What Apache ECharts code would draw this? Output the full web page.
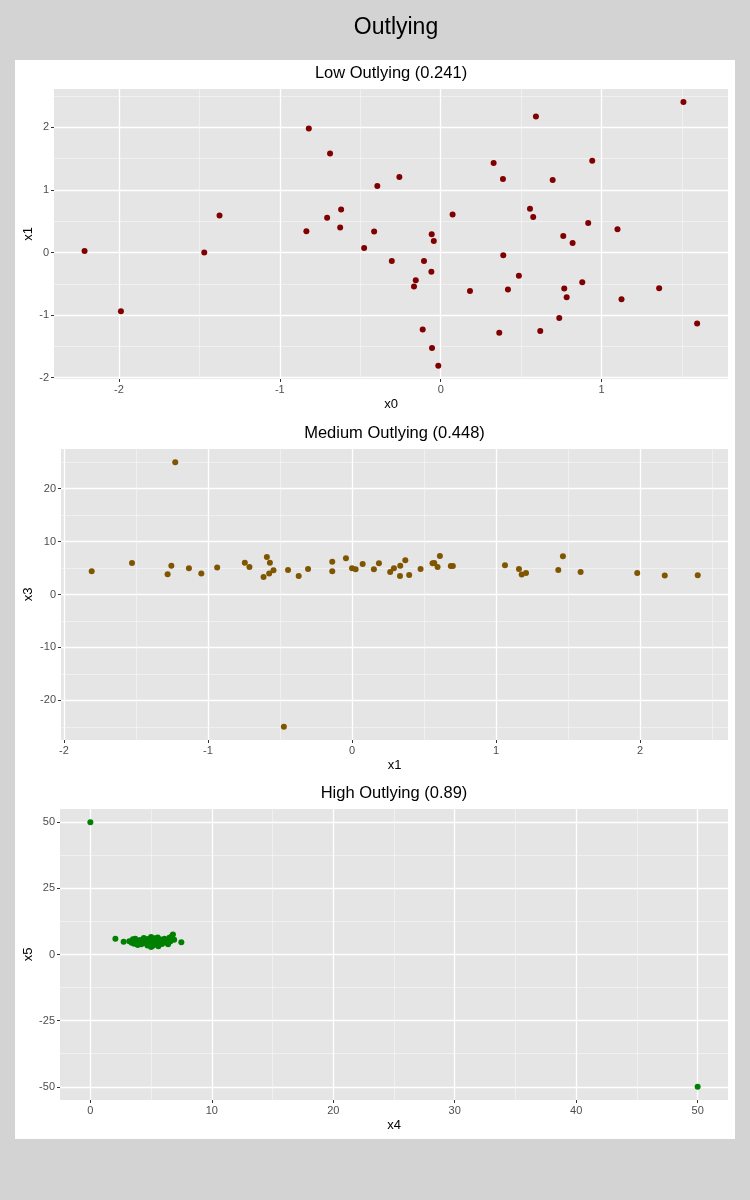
<!DOCTYPE html>
<html>
<head>
<meta charset="utf-8">
<script src="https://cdn.jsdelivr.net/npm/echarts@6/dist/echarts.min.js"></script>
<style>
html,body{margin:0;padding:0;background:#d3d3d3;}
#chart{width:750px;height:1200px;}
</style>
</head>
<body>
<div id="chart"></div>
<script>
// ---------- data ----------
const lowX0 = [-2.214,-1.988,-1.470,-1.375,-0.820,-0.688,-0.394,-0.257,-0.619,-0.706,-0.625,-0.835,-0.414,-0.476,-0.304,
  1.509,0.592,0.329,0.942,0.387,0.696,0.074,0.555,0.575,0.917,1.099,-0.056,-0.043,0.762,0.820,-0.104,-0.058,0.389,
  -0.155,-0.166,0.182,0.418,0.486,0.768,0.783,0.880,1.358,1.124,0.737,1.594,-0.112,0.364,0.619,-0.054,-0.015];
const lowX1 = [0.025,-0.937,0.000,0.592,1.978,1.581,1.063,1.206,0.687,0.555,0.397,0.338,0.333,0.073,-0.138,
  2.402,2.169,1.429,1.465,1.175,1.159,0.608,0.698,0.565,0.470,0.370,0.290,0.184,0.263,0.152,-0.138,-0.307,-0.043,
  -0.444,-0.545,-0.614,-0.593,-0.371,-0.577,-0.714,-0.476,-0.571,-0.746,-1.048,-1.133,-1.229,-1.281,-1.254,-1.524,-1.810];

const medX1 = [-1.227,-0.473,-1.807,-1.527,-1.280,-1.254,-1.132,-1.046,-0.936,-0.744,-0.712,-0.591,-0.570,-0.614,-0.575,
  -0.545,-0.444,-0.370,-0.305,-0.137,-0.137,-0.042,0.000,0.025,0.074,0.152,0.187,0.265,0.291,0.335,0.333,0.370,0.397,
  0.476,0.559,0.571,0.594,0.610,0.686,0.700,1.062,1.159,1.178,1.208,1.432,1.464,1.587,1.980,2.171,2.400];
const medX3 = [25,-25,4.40,5.96,3.83,5.45,4.96,3.95,5.08,6.02,5.21,7.09,6.02,3.33,3.95,
  4.59,4.64,3.52,4.83,6.20,4.40,6.84,4.96,4.77,5.77,4.77,5.90,4.27,4.96,5.45,3.52,6.47,3.70,
  4.83,5.90,5.96,5.21,7.27,5.39,5.39,5.52,4.83,3.76,4.08,4.64,7.21,4.27,4.08,3.57,3.65];

const highX4 = [0,50,2.06,2.74,7.49,3.2,3.4,3.5,3.6,3.8,3.9,4.0,4.1,4.2,4.3,4.4,4.5,4.6,4.7,4.8,4.9,5.0,5.0,5.1,5.2,5.3,
  5.4,5.5,5.6,5.7,5.8,5.9,6.0,6.1,6.2,6.3,6.4,6.5,6.6,6.7,6.8,6.9,4.45,3.7,5.25,4.85,5.55,6.05,5.15,4.65];
const highX5 = [50,-50,6.0,4.8,4.6,5.0,4.4,5.8,4.1,5.2,3.6,4.7,5.5,3.9,4.9,6.2,4.3,5.3,3.4,5.9,4.5,6.6,2.8,5.0,3.7,6.1,
  4.2,5.4,3.1,4.8,5.7,4.0,5.2,6.0,4.5,5.5,3.9,6.3,5.0,6.9,7.6,5.6,5.6,6.0,4.6,3.9,6.4,4.9,3.3,5.8];

const titles = ['Low Outlying (0.241)','Medium Outlying (0.448)','High Outlying (0.89)'];
const xNames = ['x0','x1','x4'];
const yNames = ['x1','x3','x5'];
const colors = ['#800000','#7f5500','#008000'];

// tick values
const xMajors = [[-2,-1,0,1],[-2,-1,0,1,2],[0,10,20,30,40,50]];
const xMinors = [[-1.5,-0.5,0.5,1.5],[-1.5,-0.5,0.5,1.5,2.5],[5,15,25,35,45]];
const yMajors = [[-2,-1,0,1,2],[-20,-10,0,10,20],[-50,-25,0,25,50]];
const yMinors = [[-1.5,-0.5,0.5,1.5,2.5],[-25,-15,-5,5,15,25],[-37.5,-12.5,12.5,37.5]];
const xRanges = [[-2.404,1.786],[-2.02,2.61],[-2.5,52.5]];
const yRanges = [[-2.02,2.61],[-27.5,27.5],[-55,55]];

const seriesX = [lowX0, medX1, highX4];
const seriesY = [lowX1, medX3, highX5];

// ---------- layout ----------
const FONT = 'Liberation Sans, Arial, sans-serif';
const grids = [
  {left:54, right:22, top:89, height:290},
  {left:61, right:22, top:449, height:291},
  {left:60, right:22, top:809, height:291}
];
const yNameGaps = [19, 26, 25];

const grid = grids.map(g => Object.assign({show:true, backgroundColor:'#e5e5e5', borderWidth:0}, g));
const xAxis = [], yAxis = [], series = [];
const title = [{text:'Outlying', left:396, textAlign:'center', top:16, padding:0,
  textStyle:{fontSize:23, fontWeight:'normal', color:'#000', fontFamily:FONT}}];

for (let i = 0; i < 3; i++) {
  const cx = (grids[i].left + (750 - grids[i].right)) / 2;
  title.push({text: titles[i], left: cx, textAlign:'center', top: grids[i].top - 24, padding:0,
    textStyle:{fontSize:16.5, fontWeight:'normal', color:'#000', fontFamily:FONT}});
  // main x
  xAxis.push({gridIndex:i, type:'value', min:xRanges[i][0], max:xRanges[i][1], position:'bottom',
    name:xNames[i], nameLocation:'middle', nameGap:19, nameMoveOverlap:false,
    nameTextStyle:{fontSize:13, color:'#000', fontFamily:FONT},
    axisLine:{show:false, onZero:false},
    axisTick:{show:true, length:3, lineStyle:{color:'#333', width:1}, customValues:xMajors[i]},
    axisLabel:{customValues:xMajors[i], color:'#4d4d4d', fontSize:11, margin:5, fontFamily:FONT},
    splitLine:{show:true, lineStyle:{color:'#ffffff', width:1.3}}
  });
  // minor x
  xAxis.push({gridIndex:i, type:'value', min:xRanges[i][0], max:xRanges[i][1], position:'top',
    axisLine:{show:false, onZero:false}, axisLabel:{show:false},
    axisTick:{show:false, customValues:xMinors[i]},
    splitLine:{show:true, lineStyle:{color:'#f5f5f5', width:0.7}}
  });
  yAxis.push({gridIndex:i, type:'value', min:yRanges[i][0], max:yRanges[i][1], position:'left',
    name:yNames[i], nameLocation:'middle', nameGap:yNameGaps[i], nameMoveOverlap:false,
    nameTextStyle:{fontSize:13, color:'#000', fontFamily:FONT},
    axisLine:{show:false, onZero:false},
    axisTick:{show:true, length:3, lineStyle:{color:'#333', width:1}, customValues:yMajors[i]},
    axisLabel:{customValues:yMajors[i], color:'#4d4d4d', fontSize:11, margin:5, fontFamily:FONT},
    splitLine:{show:true, lineStyle:{color:'#ffffff', width:1.3}}
  });
  yAxis.push({gridIndex:i, type:'value', min:yRanges[i][0], max:yRanges[i][1], position:'right',
    axisLine:{show:false, onZero:false}, axisLabel:{show:false},
    axisTick:{show:false, customValues:yMinors[i]},
    splitLine:{show:true, lineStyle:{color:'#f5f5f5', width:0.7}}
  });
  series.push({type:'scatter', xAxisIndex:2*i, yAxisIndex:2*i, symbolSize:6,
    itemStyle:{color:colors[i], opacity:1},
    data: seriesX[i].map((v, k) => [v, seriesY[i][k]]),
    silent:true, animation:false});
}

const chart = echarts.init(document.getElementById('chart'), null, {renderer:'canvas'});
chart.setOption({
  backgroundColor:'#d3d3d3',
  animation:false,
  graphic:[{type:'rect', left:15, top:60, shape:{width:720, height:1079}, style:{fill:'#ffffff'}, z:-10}],
  title, grid, xAxis, yAxis, series
});
</script>
</body>
</html>
